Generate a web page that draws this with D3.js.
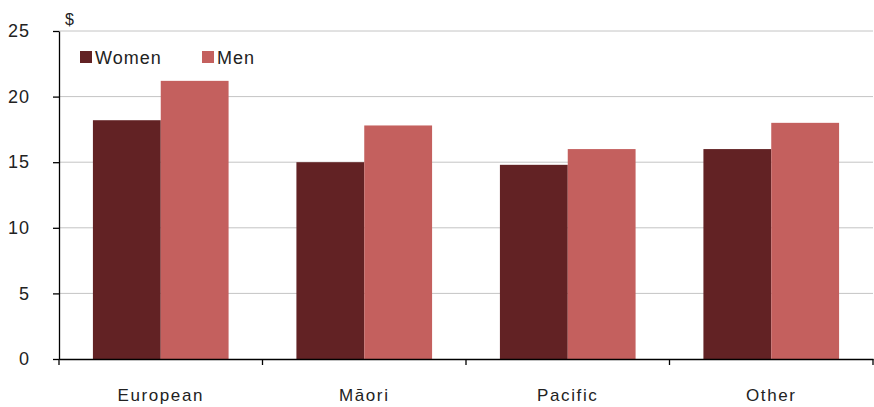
<!DOCTYPE html>
<html>
<head>
<meta charset="utf-8">
<script src="https://cdn.jsdelivr.net/npm/d3@7/dist/d3.min.js"></script>
<style>
  html, body { margin: 0; padding: 0; background: #fff; }
  svg { display: block; font-family: "Liberation Sans", Arial, sans-serif; }
</style>
</head>
<body>
<svg id="chart" width="874" height="407"></svg>
<script>
// Hourly earnings by ethnicity and sex ($)
const categories = ["European", "Māori", "Pacific", "Other"];
const seriesNames = ["Women", "Men"];
const women = [18.2, 15.0, 14.8, 16.0];
const men = [21.2, 17.8, 16.0, 18.0];
const yTicks = [0, 5, 10, 15, 20, 25];
const colors = ["#622224", "#c4605e"];

const svg = d3.select("#chart");
const margin = { left: 59, right: 1, top: 31, bottom: 48 };
const W = 874, H = 407;

const x = d3.scaleBand()
  .domain(categories)
  .range([margin.left, W - margin.right])
  .paddingInner(0)
  .paddingOuter(0);

const inner = d3.scaleBand()
  .domain(seriesNames)
  .range([0, x.bandwidth()])
  .paddingOuter(0.5)
  .paddingInner(0);

const y = d3.scaleLinear()
  .domain([0, 25])
  .range([H - margin.bottom, margin.top]);

// gridlines
svg.append("g")
  .selectAll("line")
  .data(yTicks.filter(d => d > 0))
  .join("line")
  .attr("x1", margin.left)
  .attr("x2", W - margin.right)
  .attr("y1", d => y(d))
  .attr("y2", d => y(d))
  .attr("stroke", "#c4c4c4")
  .attr("stroke-width", 1);

// bars
const rows = categories.map((c, i) => ({ cat: c, values: [women[i], men[i]] }));
const groups = svg.append("g")
  .selectAll("g")
  .data(rows)
  .join("g")
  .attr("transform", d => `translate(${x(d.cat)},0)`);

groups.selectAll("rect")
  .data(d => d.values.map((v, j) => ({ key: seriesNames[j], v, j })))
  .join("rect")
  .attr("x", d => inner(d.key))
  .attr("width", inner.bandwidth())
  .attr("y", d => y(d.v))
  .attr("height", d => y(0) - y(d.v))
  .attr("fill", d => colors[d.j]);

// y axis
const yAxis = svg.append("g")
  .attr("transform", `translate(${margin.left},0)`)
  .call(d3.axisLeft(y).tickValues(yTicks).tickSize(6).tickPadding(23).tickSizeOuter(0));
yAxis.select(".domain").attr("stroke", "#000").attr("stroke-width", 1.3);
yAxis.selectAll(".tick line").attr("stroke", "#000").attr("stroke-width", 1.3);
yAxis.selectAll("text")
  .attr("font-size", 18)
  .attr("letter-spacing", 1)
  .attr("text-anchor", "end")
  .attr("fill", "#222")
  .attr("font-family", "'Liberation Sans', Arial, sans-serif");

// x axis
const xAxis = svg.append("g")
  .attr("transform", `translate(0,${y(0)})`)
  .call(d3.axisBottom(x).tickSize(0).tickPadding(30));
xAxis.select(".domain").attr("stroke", "#000").attr("stroke-width", 1.3);
xAxis.selectAll("text")
  .attr("font-size", 17)
  .attr("letter-spacing", 1.6)
  .attr("fill", "#222")
  .attr("font-family", "'Liberation Sans', Arial, sans-serif");

// category boundary ticks
const bounds = categories.map(c => x(c)).concat([x(categories[categories.length - 1]) + x.bandwidth()]);
svg.append("g")
  .selectAll("line")
  .data(bounds)
  .join("line")
  .attr("x1", d => d)
  .attr("x2", d => d)
  .attr("y1", y(0))
  .attr("y2", y(0) + 6)
  .attr("stroke", "#000")
  .attr("stroke-width", 1.3);

// unit label
svg.append("text")
  .attr("x", 65)
  .attr("y", 25)
  .attr("font-size", 16)
  .attr("fill", "#222")
  .text("$");

// legend
const legend = svg.append("g").attr("transform", "translate(80,50)");
const legendX = [0, 122];
seriesNames.forEach((name, i) => {
  const g = legend.append("g").attr("transform", `translate(${legendX[i]},0)`);
  g.append("rect").attr("x", 0).attr("y", 1).attr("width", 12).attr("height", 12).attr("fill", colors[i]);
  g.append("text")
    .attr("x", 15)
    .attr("y", 14)
    .attr("font-size", 18)
    .attr("letter-spacing", 1)
    .attr("fill", "#222")
    .text(name);
});
</script>
</body>
</html>
